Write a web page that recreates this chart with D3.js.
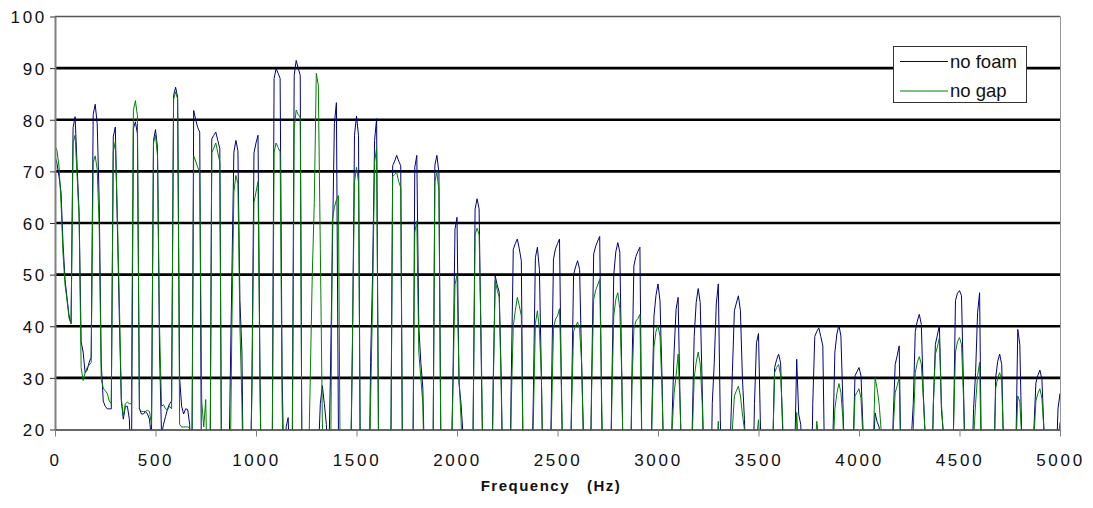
<!DOCTYPE html>
<html>
<head>
<meta charset="utf-8">
<script src="https://cdn.jsdelivr.net/npm/d3@7"></script>
<style>
  body { margin: 0; background: #fff; }
  svg { display: block; }
  text { font-family: "Liberation Sans", Arial, sans-serif; }
</style>
</head>
<body>
<svg id="chart" width="1093" height="508"></svg>
<script>
// Sound pressure spectra (dB), one value every 10 Hz from 0 to 5000 Hz.
// Each row below is one 100 Hz band: 0, 10, 20 ... 90 Hz above the band start.
const binHz = 10;

const noFoamRows = [
  [73, 71.5, 69, 66, 56, 49, 45.5, 42, 40.5, 78.5],
  [80.6, 71, 62, 37, 35, 31, 31.5, 33, 34, 81],
  [83, 79.2, 64, 33, 25.5, 24.5, 24, 24, 24, 76.7],
  [78.6, 60, 42, 25.5, 22, 24.5, 24.5, 22, 10, 78.3],
  [79.6, 77.3, 24, 23, 23, 23.5, 23, 22, 18, 76],
  [78.1, 74.6, 35, 19, 21, 22.5, 24, 25, 25.5, 84.7],
  [86.3, 84.4, 30, 24.5, 23, 24, 23.9, 21, 5, 81.8],
  [80, 78.5, 77.6, 0, -5, -5, -5, 0, 76.3, 77],
  [77.6, 76, 74.4, 0, -5, -5, -5, 25, 50, 73.7],
  [76, 74, 45, 35, 0, -5, -5, 5, 30, 73.6],
  [75.5, 77, 30, 0, -5, -5, -5, 0, 10, 88],
  [89.9, 89, 88, 30, 10, 20.5, 22.3, 10, 15, 88.6],
  [91.5, 90, 88.6, 0, -5, -5, -5, 0, 0, 5],
  [5, 15, 25, 28.5, 25, 21, 10, 30, 55, 79.2],
  [83.3, 20, 5, -5, -5, -5, 0, 10, 36, 77],
  [80.7, 77, 5, -5, -5, -5, 0, 33, 50, 76],
  [80.2, 15, -5, -5, -5, -5, 0, 10, 71.1, 72],
  [73.1, 72, 71.1, 5, -5, -5, -5, 0, 10, 70.8],
  [73.1, 40, 33, 28, 10, -5, -5, 0, 10, 71.2],
  [73.1, 69.8, 15, -5, -5, -5, 0, 10, 30, 58.8],
  [61.1, 29, 25, 19, 0, -5, -5, 0, 20, 62.7],
  [64.7, 62.7, 35, 10, -5, -5, -5, 0, 29, 49.8],
  [48, 46.6, 30, 5, -5, -5, 0, 30, 54.9, 56],
  [56.9, 55, 52.7, 10, -5, -5, -5, 5, 27, 53.3],
  [55.3, 51, 30, 5, -5, -5, 0, 27, 53, 55],
  [56, 56.9, 26, 5, -5, -5, 0, 26, 50, 51.5],
  [52.7, 51, 33, 18, -5, -5, 0, 30, 54, 55.5],
  [56.5, 57.4, 22, 5, -5, -5, 0, 28, 50, 54.4],
  [56.2, 54.4, 30, 5, -5, -5, 0, 30, 51.7, 53.5],
  [54.5, 55.3, 15, -5, -5, -5, 0, 24, 42, 46],
  [48.2, 44.9, 30, 10, -5, -5, 0, 22, 35, 43.3],
  [45.6, 25, 10, -5, -5, -5, 0, 20, 38, 44.6],
  [47.3, 44.6, 28, 10, -5, -5, 0, 25, 33, 44.3],
  [48.2, 22, 5, -5, -5, -5, 18, 31, 43, 44.5],
  [45.9, 43, 30, 22, 10, -5, 0, 5, 25, 36.8],
  [38.6, 20, 5, -5, -5, -5, 0, 15, 32, 33.5],
  [34.6, 32.9, 20, 5, -5, -5, 0, 5, 15, 33.6],
  [23, 21, 10, -5, -5, -5, 0, 25, 38, 39],
  [39.7, 38, 36.2, 10, -5, -5, 0, 18, 35, 38.5],
  [40.2, 38.1, 25, 10, -5, -5, 0, 15, 30.4, 31.2],
  [32, 30.4, 20, 10, -5, -5, 0, 15, 23.2, 21.5],
  [20.5, 15, 5, -5, -5, -5, 5, 22, 32.6, 34.3],
  [36.2, 10, -5, -5, -5, -5, 18, 25, 39, 41],
  [42.3, 40.4, 27, 18, -5, -5, 5, 25, 36.5, 38.3],
  [40.2, 24, 19, -5, -5, -5, 0, 20, 45, 46.4],
  [46.9, 45.9, 28, 10, -5, -5, 10, 24, 31, 42.6],
  [46.5, 10, -5, -5, -5, -5, 0, 10, 30, 33.2],
  [34.6, 32.6, 15, -5, -5, -5, -5, 0, 15, 39.4],
  [36.5, 18, 0, -5, -5, -5, 0, 20, 29, 30.5],
  [31.5, 29.7, 20, 5, -5, -5, 0, 5, 12, 24],
  [27]
];

const noGapRows = [
  [75, 74, 71, 64, 54, 48, 45, 41.5, 40.5, 75.6],
  [77, 69, 61, 32, 29.5, 31, 32, 32.5, 33, 71.7],
  [73, 70.4, 59, 30, 28, 27.5, 27, 25.5, 25, 73.8],
  [75.7, 62, 45, 26, 22.5, 25, 25.3, 25, 25, 81.8],
  [83.7, 80.8, 24, 23.5, 23.5, 23.5, 23.7, 23.5, 21, 75.5],
  [77, 73, 40, 24.5, 24.8, 24, 23.8, 24.5, 24, 84],
  [85.4, 84, 21, 20.5, 20.5, 20.5, 20.5, 20.3, 5, 73],
  [72, 70.8, 69.9, 25.5, 20.5, 25.8, 5, 0, 73.6, 74.5],
  [75.5, 73.6, 71.8, 0, -5, -5, -5, 5, 40, 66],
  [69.2, 67.6, 40, 25, 0, -5, -5, 5, 28, 64],
  [66, 68, 28, 0, -5, -5, -5, 0, 10, 73.7],
  [75.5, 74.6, 73.8, 25, 0, -5, -5, 0, 10, 78.2],
  [81.9, 81, 80.5, 0, -5, 0, 10, 30, 50, 64],
  [89, 86.7, 55, 22, 5, -5, -5, 5, 60.8, 63],
  [64.5, 65.3, 5, -5, -5, -5, 0, 10, 38, 67.9],
  [70.8, 67.9, 5, -5, -5, -5, 0, 25, 45, 71.8],
  [74.5, 15, -5, -5, -5, -5, 0, 10, 69, 69.4],
  [69.8, 68, 66.9, 5, -5, -5, -5, 0, 10, 58.2],
  [60.4, 35, 30, 25, 5, -5, -5, 0, 10, 68],
  [69.8, 66.3, 15, -5, -5, -5, 0, 10, 28, 48],
  [50, 30, 22, 10, 0, -5, -5, 0, 20, 57.7],
  [59, 57.7, 38, 10, -5, -5, -5, 0, 27, 48.8],
  [47, 45.6, 28, 5, -5, -5, 0, 25, 40, 43],
  [45.6, 44, 42, 10, -5, -5, -5, 5, 22, 40.5],
  [43, 39.4, 30, 5, -5, -5, 0, 22, 39.4, 41.4],
  [42, 43.4, 28, 5, -5, -5, 0, 24, 39, 40],
  [40.8, 39.4, 33, 15, -5, -5, 0, 28, 45.2, 47],
  [48, 49.1, 25, 5, -5, -5, 0, 25, 42, 45.2],
  [46.5, 43.4, 30, 5, -5, -5, 0, 28, 39.4, 41],
  [41.5, 42.3, 15, -5, -5, -5, 0, 22, 36, 39],
  [40.1, 38.1, 28, 10, -5, -5, 0, 20, 27, 30.4],
  [34.6, 25, 10, -5, -5, -5, 0, 18, 30, 33],
  [35, 32.7, 25, 10, -5, -5, -5, 0, 5, 15],
  [21.6, 10, 0, -5, -5, -5, 5, 20, 26.5, 27.5],
  [28.4, 26.5, 23, 20, 10, -5, -5, 0, 10, 18],
  [21.9, 15, 0, -5, -5, -5, 0, 15, 31, 32],
  [32.6, 30.5, 22, 5, -5, -5, 0, 5, 10, 23.3],
  [15, 5, -5, -5, -5, -5, 0, 5, 15, 21.6],
  [18, 5, -5, -5, -5, -5, 0, 15, 24, 27],
  [28.9, 27.2, 22, 10, -5, -5, 0, 15, 26.5, 27.2],
  [27.9, 26, 18, 5, -5, -5, 0, 15, 30, 28],
  [25, 20, 5, -5, -5, -5, 5, 20, 27.1, 28.5],
  [30, 10, -5, -5, -5, -5, 15, 20, 31, 33],
  [34.1, 32.7, 26, 18, -5, -5, 5, 25, 34.6, 36],
  [37.8, 25, 19, -5, -5, -5, 0, 20, 35, 37],
  [37.8, 36.5, 26, 10, -5, -5, 10, 18, 25, 30.4],
  [33, 10, -5, -5, -5, -5, 0, 10, 28, 30],
  [31, 29.4, 15, -5, -5, -5, -5, 0, 15, 26.5],
  [25.4, 18, 0, -5, -5, -5, 0, 18, 25.5, 27],
  [27.9, 26, 20, 5, -5, -5, 0, 5, 10, 18],
  [21.4]
];

const xTicks = [0, 500, 1000, 1500, 2000, 2500, 3000, 3500, 4000, 4500, 5000];
const yTicks = [20, 30, 40, 50, 60, 70, 80, 90, 100];
const gridValues = [30, 40, 50, 60, 70, 80, 90];
const seriesNames = ["no foam", "no gap"];
const seriesColors = ["#000080", "#008000"];
const xTitle = "Frequency   (Hz)";

const noFoam = noFoamRows.flat();
const noGap = noGapRows.flat();
const series = [noFoam, noGap].map((vals, i) => ({
  name: seriesNames[i],
  color: seriesColors[i],
  points: vals.map((v, j) => [j * binHz, v])
}));

const svg = d3.select("#chart");
const plot = { left: 55, right: 1060, top: 16.5, bottom: 429.5 };

const x = d3.scaleLinear().domain([0, 5000]).range([plot.left, plot.right]);
const y = d3.scaleLinear().domain([20, 100]).range([plot.bottom, plot.top]);

svg.append("defs").append("clipPath").attr("id", "plotClip")
  .append("rect")
  .attr("x", plot.left).attr("y", plot.top)
  .attr("width", plot.right - plot.left).attr("height", plot.bottom - plot.top);

// horizontal gridlines
svg.append("g").selectAll("line").data(gridValues).join("line")
  .attr("x1", plot.left).attr("x2", plot.right)
  .attr("y1", d => y(d)).attr("y2", d => y(d))
  .attr("stroke", "#000").attr("stroke-width", 2.6);

// plot frame (top and right)
svg.append("line")
  .attr("x1", plot.left).attr("x2", plot.right)
  .attr("y1", y(100)).attr("y2", y(100))
  .attr("stroke", "#555").attr("stroke-width", 1.6);
svg.append("line")
  .attr("x1", plot.right + 0.5).attr("x2", plot.right + 0.5)
  .attr("y1", plot.top).attr("y2", plot.bottom)
  .attr("stroke", "#999").attr("stroke-width", 1);

// spectra
const line = d3.line().x(d => x(d[0])).y(d => y(d[1]));
svg.append("g").attr("clip-path", "url(#plotClip)")
  .selectAll("path").data(series).join("path")
  .attr("d", d => line(d.points))
  .attr("fill", "none")
  .attr("stroke", d => d.color)
  .attr("stroke-width", 1);

// axes
const yAxis = svg.append("g")
  .attr("transform", `translate(${plot.left},0)`)
  .call(d3.axisLeft(y).tickValues(yTicks).tickFormat(d3.format("d"))
    .tickSize(5).tickPadding(3).tickSizeOuter(0));
const xAxis = svg.append("g")
  .attr("transform", `translate(0,${plot.bottom})`)
  .call(d3.axisBottom(x).tickValues(xTicks).tickFormat(d3.format("d"))
    .tickSize(7).tickPadding(17).tickSizeOuter(0));

yAxis.select(".domain").attr("stroke", "#808080").attr("stroke-width", 2);
yAxis.selectAll(".tick line").attr("stroke", "#333");
xAxis.select(".domain").attr("stroke", "#333").attr("stroke-width", 1.4);
xAxis.selectAll(".tick line").attr("stroke", "#808080");

[yAxis, xAxis].forEach(g => g.selectAll(".tick text")
  .attr("fill", "#111")
  .style("font-size", "17px")
  .style("letter-spacing", "2.7px")
  .attr("font-family", null));
yAxis.selectAll(".tick text").attr("dy", "0.37em");

// axis title
svg.append("text")
  .attr("x", 551).attr("y", 491)
  .attr("text-anchor", "middle")
  .style("font-size", "15px").style("font-weight", "bold")
  .style("letter-spacing", "1.5px").style("white-space", "pre")
  .attr("fill", "#111")
  .text(xTitle);

// legend
const legend = svg.append("g");
legend.append("rect")
  .attr("x", 893.5).attr("y", 46.5).attr("width", 133).attr("height", 56)
  .attr("fill", "#fff").attr("stroke", "#333").attr("stroke-width", 1);
const rows = legend.selectAll("g.item").data(series).join("g").attr("class", "item");
rows.append("line")
  .attr("x1", 900).attr("x2", 948)
  .attr("y1", (d, i) => i === 0 ? 61.5 : 91).attr("y2", (d, i) => i === 0 ? 61.5 : 91)
  .attr("stroke", d => d.color).attr("stroke-width", 1);
rows.append("text")
  .attr("x", 950).attr("y", (d, i) => i === 0 ? 68 : 97)
  .style("font-size", "18.5px").attr("fill", "#111")
  .text(d => d.name);
</script>
</body>
</html>
